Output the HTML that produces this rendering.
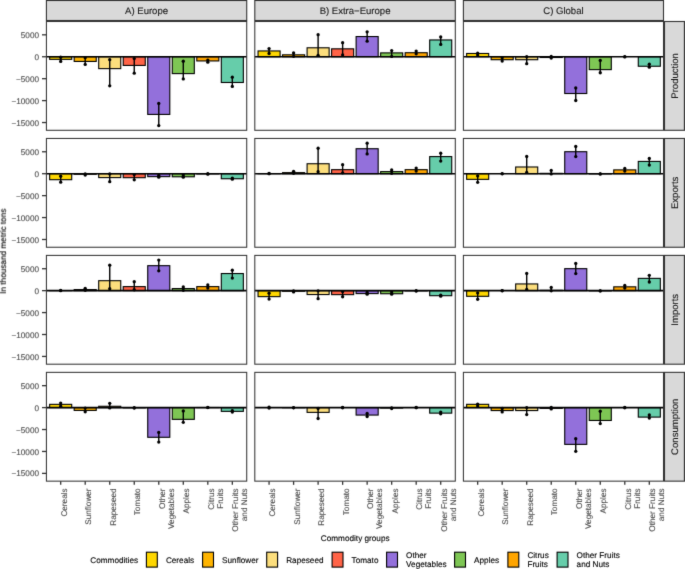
<!DOCTYPE html>
<html><head><meta charset="utf-8"><title>Chart</title>
<style>
html,body{margin:0;padding:0;background:#fff;}
body{width:685px;height:569px;overflow:hidden;}
svg{display:block;font-family:"Liberation Sans", sans-serif;will-change:transform;text-rendering:geometricPrecision;}
text{stroke-width:0.12;stroke:currentColor;paint-order:stroke;}
</style></head><body>
<svg width="685" height="569" viewBox="0 0 685 569">
<defs><filter id="sm" filterUnits="userSpaceOnUse" x="0" y="0" width="685" height="569" color-interpolation-filters="sRGB"><feConvolveMatrix order="3" kernelMatrix="1 8 1 8 64 8 1 8 1" divisor="100" edgeMode="duplicate"/></filter></defs>
<g filter="url(#sm)">
<rect x="0" y="0" width="685" height="569" fill="#fff"/>
<rect x="46.42" y="0.5" width="200.3" height="20" fill="#D9D9D9" stroke="#333333" stroke-width="1.1"/>
<text x="146.57" y="14.1" font-size="9.55" fill="#1A1A1A" color="#1A1A1A" text-anchor="middle">A) Europe</text>
<rect x="254.8" y="0.5" width="200.5" height="20" fill="#D9D9D9" stroke="#333333" stroke-width="1.1"/>
<text x="355.05" y="14.1" font-size="9.55" fill="#1A1A1A" color="#1A1A1A" text-anchor="middle">B) Extra−Europe</text>
<rect x="463.4" y="0.5" width="200.1" height="20" fill="#D9D9D9" stroke="#333333" stroke-width="1.1"/>
<text x="563.45" y="14.1" font-size="9.55" fill="#1A1A1A" color="#1A1A1A" text-anchor="middle">C) Global</text>
<rect x="664.5" y="21.5" width="19.9" height="108.8" fill="#D9D9D9" stroke="#333333" stroke-width="1.1"/>
<text transform="translate(678,75.9) rotate(-90)" x="0" y="0" font-size="9.55" fill="#1A1A1A" color="#1A1A1A" text-anchor="middle">Production</text>
<rect x="664.5" y="138.45" width="19.9" height="108.8" fill="#D9D9D9" stroke="#333333" stroke-width="1.1"/>
<text transform="translate(678,192.85) rotate(-90)" x="0" y="0" font-size="9.55" fill="#1A1A1A" color="#1A1A1A" text-anchor="middle">Exports</text>
<rect x="664.5" y="255.4" width="19.9" height="108.8" fill="#D9D9D9" stroke="#333333" stroke-width="1.1"/>
<text transform="translate(678,309.8) rotate(-90)" x="0" y="0" font-size="9.55" fill="#1A1A1A" color="#1A1A1A" text-anchor="middle">Imports</text>
<rect x="664.5" y="372.35" width="19.9" height="108.8" fill="#D9D9D9" stroke="#333333" stroke-width="1.1"/>
<text transform="translate(678,426.75) rotate(-90)" x="0" y="0" font-size="9.55" fill="#1A1A1A" color="#1A1A1A" text-anchor="middle">Consumption</text>
<rect x="46.42" y="21.5" width="200.3" height="108.8" fill="#FFFFFF"/>
<rect x="49.66" y="56.75" width="22.05" height="2.59" fill="#FFD700" stroke="#000" stroke-width="1.1"/>
<rect x="74.18" y="56.75" width="22.05" height="4.69" fill="#FFB400" stroke="#000" stroke-width="1.1"/>
<rect x="98.7" y="56.75" width="22.05" height="11.87" fill="#FCDE7D" stroke="#000" stroke-width="1.1"/>
<rect x="123.22" y="56.75" width="22.05" height="8.68" fill="#FF6347" stroke="#000" stroke-width="1.1"/>
<rect x="147.74" y="56.75" width="22.05" height="57.67" fill="#9370DB" stroke="#000" stroke-width="1.1"/>
<rect x="172.26" y="56.75" width="22.05" height="16.86" fill="#7EC654" stroke="#000" stroke-width="1.1"/>
<rect x="196.78" y="56.75" width="22.05" height="4.19" fill="#FFA500" stroke="#000" stroke-width="1.1"/>
<rect x="221.3" y="56.75" width="22.05" height="25.74" fill="#66CDAA" stroke="#000" stroke-width="1.1"/>
<line x1="46.42" x2="246.72" y1="56.75" y2="56.75" stroke="#000" stroke-width="1.6"/>
<line x1="60.69" x2="60.69" y1="57.25" y2="61.43" stroke="#000" stroke-width="1.4"/>
<circle cx="60.69" cy="57.25" r="1.65" fill="#000"/>
<circle cx="60.69" cy="61.43" r="1.65" fill="#000"/>
<line x1="85.21" x2="85.21" y1="57.65" y2="64.43" stroke="#000" stroke-width="1.4"/>
<circle cx="85.21" cy="57.65" r="1.65" fill="#000"/>
<circle cx="85.21" cy="64.43" r="1.65" fill="#000"/>
<line x1="109.73" x2="109.73" y1="59.64" y2="85.79" stroke="#000" stroke-width="1.4"/>
<circle cx="109.73" cy="59.64" r="1.65" fill="#000"/>
<circle cx="109.73" cy="85.79" r="1.65" fill="#000"/>
<line x1="134.25" x2="134.25" y1="58.55" y2="73.17" stroke="#000" stroke-width="1.4"/>
<circle cx="134.25" cy="58.55" r="1.65" fill="#000"/>
<circle cx="134.25" cy="73.17" r="1.65" fill="#000"/>
<line x1="158.77" x2="158.77" y1="103.44" y2="125.59" stroke="#000" stroke-width="1.4"/>
<circle cx="158.77" cy="103.44" r="1.65" fill="#000"/>
<circle cx="158.77" cy="125.59" r="1.65" fill="#000"/>
<line x1="183.29" x2="183.29" y1="61.24" y2="78.9" stroke="#000" stroke-width="1.4"/>
<circle cx="183.29" cy="61.24" r="1.65" fill="#000"/>
<circle cx="183.29" cy="78.9" r="1.65" fill="#000"/>
<line x1="207.81" x2="207.81" y1="60.04" y2="62.14" stroke="#000" stroke-width="1.4"/>
<circle cx="207.81" cy="60.04" r="1.65" fill="#000"/>
<circle cx="207.81" cy="62.14" r="1.65" fill="#000"/>
<line x1="232.33" x2="232.33" y1="77.15" y2="86.38" stroke="#000" stroke-width="1.4"/>
<circle cx="232.33" cy="77.15" r="1.65" fill="#000"/>
<circle cx="232.33" cy="86.38" r="1.65" fill="#000"/>
<rect x="46.42" y="21.5" width="200.3" height="108.8" fill="none" stroke="#333333" stroke-width="1.05"/>
<rect x="254.8" y="21.5" width="200.5" height="108.8" fill="#FFFFFF"/>
<rect x="258.05" y="50.95" width="22.05" height="5.8" fill="#FFD700" stroke="#000" stroke-width="1.1"/>
<rect x="282.56" y="54.82" width="22.05" height="1.93" fill="#FFB400" stroke="#000" stroke-width="1.1"/>
<rect x="307.09" y="47.79" width="22.05" height="8.96" fill="#FCDE7D" stroke="#000" stroke-width="1.1"/>
<rect x="331.61" y="48.83" width="22.05" height="7.92" fill="#FF6347" stroke="#000" stroke-width="1.1"/>
<rect x="356.12" y="36.55" width="22.05" height="20.2" fill="#9370DB" stroke="#000" stroke-width="1.1"/>
<rect x="380.64" y="52.89" width="22.05" height="3.86" fill="#7EC654" stroke="#000" stroke-width="1.1"/>
<rect x="405.17" y="52.72" width="22.05" height="4.03" fill="#FFA500" stroke="#000" stroke-width="1.1"/>
<rect x="429.69" y="39.95" width="22.05" height="16.8" fill="#66CDAA" stroke="#000" stroke-width="1.1"/>
<line x1="254.8" x2="455.3" y1="56.75" y2="56.75" stroke="#000" stroke-width="1.6"/>
<line x1="269.07" x2="269.07" y1="48.58" y2="53.48" stroke="#000" stroke-width="1.4"/>
<circle cx="269.07" cy="48.58" r="1.65" fill="#000"/>
<circle cx="269.07" cy="53.48" r="1.65" fill="#000"/>
<line x1="293.59" x2="293.59" y1="53.02" y2="56.31" stroke="#000" stroke-width="1.4"/>
<circle cx="293.59" cy="53.02" r="1.65" fill="#000"/>
<circle cx="293.59" cy="56.31" r="1.65" fill="#000"/>
<line x1="318.11" x2="318.11" y1="34.69" y2="55.31" stroke="#000" stroke-width="1.4"/>
<circle cx="318.11" cy="34.69" r="1.65" fill="#000"/>
<circle cx="318.11" cy="55.31" r="1.65" fill="#000"/>
<line x1="342.63" x2="342.63" y1="42.64" y2="54.96" stroke="#000" stroke-width="1.4"/>
<circle cx="342.63" cy="42.64" r="1.65" fill="#000"/>
<circle cx="342.63" cy="54.96" r="1.65" fill="#000"/>
<line x1="367.15" x2="367.15" y1="31.79" y2="41.14" stroke="#000" stroke-width="1.4"/>
<circle cx="367.15" cy="31.79" r="1.65" fill="#000"/>
<circle cx="367.15" cy="41.14" r="1.65" fill="#000"/>
<line x1="391.67" x2="391.67" y1="50.53" y2="56.41" stroke="#000" stroke-width="1.4"/>
<circle cx="391.67" cy="50.53" r="1.65" fill="#000"/>
<circle cx="391.67" cy="56.41" r="1.65" fill="#000"/>
<line x1="416.19" x2="416.19" y1="51.12" y2="53.82" stroke="#000" stroke-width="1.4"/>
<circle cx="416.19" cy="51.12" r="1.65" fill="#000"/>
<circle cx="416.19" cy="53.82" r="1.65" fill="#000"/>
<line x1="440.71" x2="440.71" y1="36.94" y2="44.44" stroke="#000" stroke-width="1.4"/>
<circle cx="440.71" cy="36.94" r="1.65" fill="#000"/>
<circle cx="440.71" cy="44.44" r="1.65" fill="#000"/>
<rect x="254.8" y="21.5" width="200.5" height="108.8" fill="none" stroke="#333333" stroke-width="1.05"/>
<rect x="463.4" y="21.5" width="200.1" height="108.8" fill="#FFFFFF"/>
<rect x="466.64" y="53.48" width="22.05" height="3.27" fill="#FFD700" stroke="#000" stroke-width="1.1"/>
<rect x="491.16" y="56.75" width="22.05" height="2.96" fill="#FFB400" stroke="#000" stroke-width="1.1"/>
<rect x="515.68" y="56.75" width="22.05" height="2.96" fill="#FCDE7D" stroke="#000" stroke-width="1.1"/>
<rect x="540.21" y="56.75" width="22.05" height="0.75" fill="#FF6347" stroke="#000" stroke-width="1.1"/>
<rect x="564.73" y="56.75" width="22.05" height="36.77" fill="#9370DB" stroke="#000" stroke-width="1.1"/>
<rect x="589.25" y="56.75" width="22.05" height="12.87" fill="#7EC654" stroke="#000" stroke-width="1.1"/>
<rect x="613.76" y="56.75" width="22.05" height="0" fill="#FFA500" stroke="#000" stroke-width="1.1"/>
<rect x="638.28" y="56.75" width="22.05" height="9.5" fill="#66CDAA" stroke="#000" stroke-width="1.1"/>
<line x1="463.4" x2="663.5" y1="56.75" y2="56.75" stroke="#000" stroke-width="1.6"/>
<line x1="477.67" x2="477.67" y1="53.24" y2="55.04" stroke="#000" stroke-width="1.4"/>
<circle cx="477.67" cy="53.24" r="1.65" fill="#000"/>
<circle cx="477.67" cy="55.04" r="1.65" fill="#000"/>
<line x1="502.19" x2="502.19" y1="57.63" y2="61.06" stroke="#000" stroke-width="1.4"/>
<circle cx="502.19" cy="57.63" r="1.65" fill="#000"/>
<circle cx="502.19" cy="61.06" r="1.65" fill="#000"/>
<line x1="526.71" x2="526.71" y1="56.75" y2="63.7" stroke="#000" stroke-width="1.4"/>
<circle cx="526.71" cy="56.75" r="1.65" fill="#000"/>
<circle cx="526.71" cy="63.7" r="1.65" fill="#000"/>
<line x1="551.23" x2="551.23" y1="56.49" y2="58.07" stroke="#000" stroke-width="1.4"/>
<circle cx="551.23" cy="56.49" r="1.65" fill="#000"/>
<circle cx="551.23" cy="58.07" r="1.65" fill="#000"/>
<line x1="575.75" x2="575.75" y1="87.88" y2="100.5" stroke="#000" stroke-width="1.4"/>
<circle cx="575.75" cy="87.88" r="1.65" fill="#000"/>
<circle cx="575.75" cy="100.5" r="1.65" fill="#000"/>
<line x1="600.27" x2="600.27" y1="60.39" y2="72.74" stroke="#000" stroke-width="1.4"/>
<circle cx="600.27" cy="60.39" r="1.65" fill="#000"/>
<circle cx="600.27" cy="72.74" r="1.65" fill="#000"/>
<line x1="624.79" x2="624.79" y1="56.62" y2="56.88" stroke="#000" stroke-width="1.4"/>
<circle cx="624.79" cy="56.62" r="1.65" fill="#000"/>
<circle cx="624.79" cy="56.88" r="1.65" fill="#000"/>
<line x1="649.31" x2="649.31" y1="64.14" y2="67.13" stroke="#000" stroke-width="1.4"/>
<circle cx="649.31" cy="64.14" r="1.65" fill="#000"/>
<circle cx="649.31" cy="67.13" r="1.65" fill="#000"/>
<rect x="463.4" y="21.5" width="200.1" height="108.8" fill="none" stroke="#333333" stroke-width="1.05"/>
<rect x="46.42" y="138.45" width="200.3" height="108.8" fill="#FFFFFF"/>
<rect x="49.66" y="173.7" width="22.05" height="5.99" fill="#FFD700" stroke="#000" stroke-width="1.1"/>
<rect x="74.18" y="173.7" width="22.05" height="0.57" fill="#FFB400" stroke="#000" stroke-width="1.1"/>
<rect x="98.7" y="173.7" width="22.05" height="3.89" fill="#FCDE7D" stroke="#000" stroke-width="1.1"/>
<rect x="123.22" y="173.7" width="22.05" height="3.99" fill="#FF6347" stroke="#000" stroke-width="1.1"/>
<rect x="147.74" y="173.7" width="22.05" height="2.94" fill="#9370DB" stroke="#000" stroke-width="1.1"/>
<rect x="172.26" y="173.7" width="22.05" height="3.09" fill="#7EC654" stroke="#000" stroke-width="1.1"/>
<rect x="196.78" y="173.7" width="22.05" height="0.22" fill="#FFA500" stroke="#000" stroke-width="1.1"/>
<rect x="221.3" y="173.7" width="22.05" height="5.04" fill="#66CDAA" stroke="#000" stroke-width="1.1"/>
<line x1="46.42" x2="246.72" y1="173.7" y2="173.7" stroke="#000" stroke-width="1.6"/>
<line x1="60.69" x2="60.69" y1="176.26" y2="182.13" stroke="#000" stroke-width="1.4"/>
<circle cx="60.69" cy="176.26" r="1.65" fill="#000"/>
<circle cx="60.69" cy="182.13" r="1.65" fill="#000"/>
<line x1="85.21" x2="85.21" y1="173.96" y2="175.02" stroke="#000" stroke-width="1.4"/>
<circle cx="85.21" cy="173.96" r="1.65" fill="#000"/>
<circle cx="85.21" cy="175.02" r="1.65" fill="#000"/>
<line x1="109.73" x2="109.73" y1="173.9" y2="181.68" stroke="#000" stroke-width="1.4"/>
<circle cx="109.73" cy="173.9" r="1.65" fill="#000"/>
<circle cx="109.73" cy="181.68" r="1.65" fill="#000"/>
<line x1="134.25" x2="134.25" y1="174.6" y2="179.79" stroke="#000" stroke-width="1.4"/>
<circle cx="134.25" cy="174.6" r="1.65" fill="#000"/>
<circle cx="134.25" cy="179.79" r="1.65" fill="#000"/>
<line x1="158.77" x2="158.77" y1="175.45" y2="177.21" stroke="#000" stroke-width="1.4"/>
<circle cx="158.77" cy="175.45" r="1.65" fill="#000"/>
<circle cx="158.77" cy="177.21" r="1.65" fill="#000"/>
<line x1="183.29" x2="183.29" y1="175.02" y2="177.21" stroke="#000" stroke-width="1.4"/>
<circle cx="183.29" cy="175.02" r="1.65" fill="#000"/>
<circle cx="183.29" cy="177.21" r="1.65" fill="#000"/>
<line x1="207.81" x2="207.81" y1="173.7" y2="174.14" stroke="#000" stroke-width="1.4"/>
<circle cx="207.81" cy="173.7" r="1.65" fill="#000"/>
<circle cx="207.81" cy="174.14" r="1.65" fill="#000"/>
<line x1="232.33" x2="232.33" y1="178.09" y2="179.18" stroke="#000" stroke-width="1.4"/>
<circle cx="232.33" cy="178.09" r="1.65" fill="#000"/>
<circle cx="232.33" cy="179.18" r="1.65" fill="#000"/>
<rect x="46.42" y="138.45" width="200.3" height="108.8" fill="none" stroke="#333333" stroke-width="1.05"/>
<rect x="254.8" y="138.45" width="200.5" height="108.8" fill="#FFFFFF"/>
<rect x="258.05" y="173.61" width="22.05" height="0.09" fill="#FFD700" stroke="#000" stroke-width="1.1"/>
<rect x="282.56" y="172.65" width="22.05" height="1.05" fill="#FFB400" stroke="#000" stroke-width="1.1"/>
<rect x="307.09" y="163.74" width="22.05" height="9.96" fill="#FCDE7D" stroke="#000" stroke-width="1.1"/>
<rect x="331.61" y="169.66" width="22.05" height="4.04" fill="#FF6347" stroke="#000" stroke-width="1.1"/>
<rect x="356.12" y="148.72" width="22.05" height="24.98" fill="#9370DB" stroke="#000" stroke-width="1.1"/>
<rect x="380.64" y="171.62" width="22.05" height="2.08" fill="#7EC654" stroke="#000" stroke-width="1.1"/>
<rect x="405.17" y="169.67" width="22.05" height="4.03" fill="#FFA500" stroke="#000" stroke-width="1.1"/>
<rect x="429.69" y="156.59" width="22.05" height="17.11" fill="#66CDAA" stroke="#000" stroke-width="1.1"/>
<line x1="254.8" x2="455.3" y1="173.7" y2="173.7" stroke="#000" stroke-width="1.6"/>
<line x1="269.07" x2="269.07" y1="173.52" y2="173.7" stroke="#000" stroke-width="1.4"/>
<circle cx="269.07" cy="173.52" r="1.65" fill="#000"/>
<circle cx="269.07" cy="173.7" r="1.65" fill="#000"/>
<line x1="293.59" x2="293.59" y1="171.33" y2="173.35" stroke="#000" stroke-width="1.4"/>
<circle cx="293.59" cy="171.33" r="1.65" fill="#000"/>
<circle cx="293.59" cy="173.35" r="1.65" fill="#000"/>
<line x1="318.11" x2="318.11" y1="148.26" y2="171.77" stroke="#000" stroke-width="1.4"/>
<circle cx="318.11" cy="148.26" r="1.65" fill="#000"/>
<circle cx="318.11" cy="171.77" r="1.65" fill="#000"/>
<line x1="342.63" x2="342.63" y1="164.71" y2="172.78" stroke="#000" stroke-width="1.4"/>
<circle cx="342.63" cy="164.71" r="1.65" fill="#000"/>
<circle cx="342.63" cy="172.78" r="1.65" fill="#000"/>
<line x1="367.15" x2="367.15" y1="143.13" y2="153.91" stroke="#000" stroke-width="1.4"/>
<circle cx="367.15" cy="143.13" r="1.65" fill="#000"/>
<circle cx="367.15" cy="153.91" r="1.65" fill="#000"/>
<line x1="391.67" x2="391.67" y1="169.97" y2="173.36" stroke="#000" stroke-width="1.4"/>
<circle cx="391.67" cy="169.97" r="1.65" fill="#000"/>
<circle cx="391.67" cy="173.36" r="1.65" fill="#000"/>
<line x1="416.19" x2="416.19" y1="168.07" y2="171.07" stroke="#000" stroke-width="1.4"/>
<circle cx="416.19" cy="168.07" r="1.65" fill="#000"/>
<circle cx="416.19" cy="171.07" r="1.65" fill="#000"/>
<line x1="440.71" x2="440.71" y1="153.22" y2="161.11" stroke="#000" stroke-width="1.4"/>
<circle cx="440.71" cy="153.22" r="1.65" fill="#000"/>
<circle cx="440.71" cy="161.11" r="1.65" fill="#000"/>
<rect x="254.8" y="138.45" width="200.5" height="108.8" fill="none" stroke="#333333" stroke-width="1.05"/>
<rect x="463.4" y="138.45" width="200.1" height="108.8" fill="#FFFFFF"/>
<rect x="466.64" y="173.7" width="22.05" height="5.66" fill="#FFD700" stroke="#000" stroke-width="1.1"/>
<rect x="491.16" y="173.7" width="22.05" height="0" fill="#FFB400" stroke="#000" stroke-width="1.1"/>
<rect x="515.68" y="166.99" width="22.05" height="6.71" fill="#FCDE7D" stroke="#000" stroke-width="1.1"/>
<rect x="540.21" y="173.35" width="22.05" height="0.35" fill="#FF6347" stroke="#000" stroke-width="1.1"/>
<rect x="564.73" y="151.71" width="22.05" height="21.99" fill="#9370DB" stroke="#000" stroke-width="1.1"/>
<rect x="589.25" y="173.7" width="22.05" height="0.22" fill="#7EC654" stroke="#000" stroke-width="1.1"/>
<rect x="613.76" y="169.88" width="22.05" height="3.82" fill="#FFA500" stroke="#000" stroke-width="1.1"/>
<rect x="638.28" y="161.42" width="22.05" height="12.28" fill="#66CDAA" stroke="#000" stroke-width="1.1"/>
<line x1="463.4" x2="663.5" y1="173.7" y2="173.7" stroke="#000" stroke-width="1.6"/>
<line x1="477.67" x2="477.67" y1="175.94" y2="182.3" stroke="#000" stroke-width="1.4"/>
<circle cx="477.67" cy="175.94" r="1.65" fill="#000"/>
<circle cx="477.67" cy="182.3" r="1.65" fill="#000"/>
<line x1="502.19" x2="502.19" y1="173.61" y2="173.79" stroke="#000" stroke-width="1.4"/>
<circle cx="502.19" cy="173.61" r="1.65" fill="#000"/>
<circle cx="502.19" cy="173.79" r="1.65" fill="#000"/>
<line x1="526.71" x2="526.71" y1="156.51" y2="172.47" stroke="#000" stroke-width="1.4"/>
<circle cx="526.71" cy="156.51" r="1.65" fill="#000"/>
<circle cx="526.71" cy="172.47" r="1.65" fill="#000"/>
<line x1="551.23" x2="551.23" y1="170.45" y2="173.92" stroke="#000" stroke-width="1.4"/>
<circle cx="551.23" cy="170.45" r="1.65" fill="#000"/>
<circle cx="551.23" cy="173.92" r="1.65" fill="#000"/>
<line x1="575.75" x2="575.75" y1="146.51" y2="156.59" stroke="#000" stroke-width="1.4"/>
<circle cx="575.75" cy="146.51" r="1.65" fill="#000"/>
<circle cx="575.75" cy="156.59" r="1.65" fill="#000"/>
<line x1="600.27" x2="600.27" y1="173.88" y2="173.96" stroke="#000" stroke-width="1.4"/>
<circle cx="600.27" cy="173.88" r="1.65" fill="#000"/>
<circle cx="600.27" cy="173.96" r="1.65" fill="#000"/>
<line x1="624.79" x2="624.79" y1="168.48" y2="171.07" stroke="#000" stroke-width="1.4"/>
<circle cx="624.79" cy="168.48" r="1.65" fill="#000"/>
<circle cx="624.79" cy="171.07" r="1.65" fill="#000"/>
<line x1="649.31" x2="649.31" y1="158.39" y2="165.06" stroke="#000" stroke-width="1.4"/>
<circle cx="649.31" cy="158.39" r="1.65" fill="#000"/>
<circle cx="649.31" cy="165.06" r="1.65" fill="#000"/>
<rect x="463.4" y="138.45" width="200.1" height="108.8" fill="none" stroke="#333333" stroke-width="1.05"/>
<rect x="46.42" y="255.4" width="200.3" height="108.8" fill="#FFFFFF"/>
<rect x="49.66" y="290.56" width="22.05" height="0.09" fill="#FFD700" stroke="#000" stroke-width="1.1"/>
<rect x="74.18" y="289.6" width="22.05" height="1.05" fill="#FFB400" stroke="#000" stroke-width="1.1"/>
<rect x="98.7" y="280.69" width="22.05" height="9.96" fill="#FCDE7D" stroke="#000" stroke-width="1.1"/>
<rect x="123.22" y="286.61" width="22.05" height="4.04" fill="#FF6347" stroke="#000" stroke-width="1.1"/>
<rect x="147.74" y="265.67" width="22.05" height="24.98" fill="#9370DB" stroke="#000" stroke-width="1.1"/>
<rect x="172.26" y="288.57" width="22.05" height="2.08" fill="#7EC654" stroke="#000" stroke-width="1.1"/>
<rect x="196.78" y="286.62" width="22.05" height="4.03" fill="#FFA500" stroke="#000" stroke-width="1.1"/>
<rect x="221.3" y="273.54" width="22.05" height="17.11" fill="#66CDAA" stroke="#000" stroke-width="1.1"/>
<line x1="46.42" x2="246.72" y1="290.65" y2="290.65" stroke="#000" stroke-width="1.6"/>
<line x1="60.69" x2="60.69" y1="290.47" y2="290.65" stroke="#000" stroke-width="1.4"/>
<circle cx="60.69" cy="290.47" r="1.65" fill="#000"/>
<circle cx="60.69" cy="290.65" r="1.65" fill="#000"/>
<line x1="85.21" x2="85.21" y1="288.28" y2="290.3" stroke="#000" stroke-width="1.4"/>
<circle cx="85.21" cy="288.28" r="1.65" fill="#000"/>
<circle cx="85.21" cy="290.3" r="1.65" fill="#000"/>
<line x1="109.73" x2="109.73" y1="265.21" y2="288.72" stroke="#000" stroke-width="1.4"/>
<circle cx="109.73" cy="265.21" r="1.65" fill="#000"/>
<circle cx="109.73" cy="288.72" r="1.65" fill="#000"/>
<line x1="134.25" x2="134.25" y1="281.66" y2="289.73" stroke="#000" stroke-width="1.4"/>
<circle cx="134.25" cy="281.66" r="1.65" fill="#000"/>
<circle cx="134.25" cy="289.73" r="1.65" fill="#000"/>
<line x1="158.77" x2="158.77" y1="260.08" y2="270.86" stroke="#000" stroke-width="1.4"/>
<circle cx="158.77" cy="260.08" r="1.65" fill="#000"/>
<circle cx="158.77" cy="270.86" r="1.65" fill="#000"/>
<line x1="183.29" x2="183.29" y1="286.92" y2="290.31" stroke="#000" stroke-width="1.4"/>
<circle cx="183.29" cy="286.92" r="1.65" fill="#000"/>
<circle cx="183.29" cy="290.31" r="1.65" fill="#000"/>
<line x1="207.81" x2="207.81" y1="285.02" y2="288.02" stroke="#000" stroke-width="1.4"/>
<circle cx="207.81" cy="285.02" r="1.65" fill="#000"/>
<circle cx="207.81" cy="288.02" r="1.65" fill="#000"/>
<line x1="232.33" x2="232.33" y1="270.17" y2="278.06" stroke="#000" stroke-width="1.4"/>
<circle cx="232.33" cy="270.17" r="1.65" fill="#000"/>
<circle cx="232.33" cy="278.06" r="1.65" fill="#000"/>
<rect x="46.42" y="255.4" width="200.3" height="108.8" fill="none" stroke="#333333" stroke-width="1.05"/>
<rect x="254.8" y="255.4" width="200.5" height="108.8" fill="#FFFFFF"/>
<rect x="258.05" y="290.65" width="22.05" height="5.99" fill="#FFD700" stroke="#000" stroke-width="1.1"/>
<rect x="282.56" y="290.65" width="22.05" height="0.57" fill="#FFB400" stroke="#000" stroke-width="1.1"/>
<rect x="307.09" y="290.65" width="22.05" height="3.89" fill="#FCDE7D" stroke="#000" stroke-width="1.1"/>
<rect x="331.61" y="290.65" width="22.05" height="3.99" fill="#FF6347" stroke="#000" stroke-width="1.1"/>
<rect x="356.12" y="290.65" width="22.05" height="2.94" fill="#9370DB" stroke="#000" stroke-width="1.1"/>
<rect x="380.64" y="290.65" width="22.05" height="3.09" fill="#7EC654" stroke="#000" stroke-width="1.1"/>
<rect x="405.17" y="290.65" width="22.05" height="0.22" fill="#FFA500" stroke="#000" stroke-width="1.1"/>
<rect x="429.69" y="290.65" width="22.05" height="5.04" fill="#66CDAA" stroke="#000" stroke-width="1.1"/>
<line x1="254.8" x2="455.3" y1="290.65" y2="290.65" stroke="#000" stroke-width="1.6"/>
<line x1="269.07" x2="269.07" y1="293.21" y2="299.08" stroke="#000" stroke-width="1.4"/>
<circle cx="269.07" cy="293.21" r="1.65" fill="#000"/>
<circle cx="269.07" cy="299.08" r="1.65" fill="#000"/>
<line x1="293.59" x2="293.59" y1="290.91" y2="291.97" stroke="#000" stroke-width="1.4"/>
<circle cx="293.59" cy="290.91" r="1.65" fill="#000"/>
<circle cx="293.59" cy="291.97" r="1.65" fill="#000"/>
<line x1="318.11" x2="318.11" y1="290.85" y2="298.63" stroke="#000" stroke-width="1.4"/>
<circle cx="318.11" cy="290.85" r="1.65" fill="#000"/>
<circle cx="318.11" cy="298.63" r="1.65" fill="#000"/>
<line x1="342.63" x2="342.63" y1="291.55" y2="296.74" stroke="#000" stroke-width="1.4"/>
<circle cx="342.63" cy="291.55" r="1.65" fill="#000"/>
<circle cx="342.63" cy="296.74" r="1.65" fill="#000"/>
<line x1="367.15" x2="367.15" y1="292.4" y2="294.16" stroke="#000" stroke-width="1.4"/>
<circle cx="367.15" cy="292.4" r="1.65" fill="#000"/>
<circle cx="367.15" cy="294.16" r="1.65" fill="#000"/>
<line x1="391.67" x2="391.67" y1="291.97" y2="294.16" stroke="#000" stroke-width="1.4"/>
<circle cx="391.67" cy="291.97" r="1.65" fill="#000"/>
<circle cx="391.67" cy="294.16" r="1.65" fill="#000"/>
<line x1="416.19" x2="416.19" y1="290.65" y2="291.09" stroke="#000" stroke-width="1.4"/>
<circle cx="416.19" cy="290.65" r="1.65" fill="#000"/>
<circle cx="416.19" cy="291.09" r="1.65" fill="#000"/>
<line x1="440.71" x2="440.71" y1="295.04" y2="296.13" stroke="#000" stroke-width="1.4"/>
<circle cx="440.71" cy="295.04" r="1.65" fill="#000"/>
<circle cx="440.71" cy="296.13" r="1.65" fill="#000"/>
<rect x="254.8" y="255.4" width="200.5" height="108.8" fill="none" stroke="#333333" stroke-width="1.05"/>
<rect x="463.4" y="255.4" width="200.1" height="108.8" fill="#FFFFFF"/>
<rect x="466.64" y="290.65" width="22.05" height="5.66" fill="#FFD700" stroke="#000" stroke-width="1.1"/>
<rect x="491.16" y="290.65" width="22.05" height="0" fill="#FFB400" stroke="#000" stroke-width="1.1"/>
<rect x="515.68" y="283.94" width="22.05" height="6.71" fill="#FCDE7D" stroke="#000" stroke-width="1.1"/>
<rect x="540.21" y="290.3" width="22.05" height="0.35" fill="#FF6347" stroke="#000" stroke-width="1.1"/>
<rect x="564.73" y="268.66" width="22.05" height="21.99" fill="#9370DB" stroke="#000" stroke-width="1.1"/>
<rect x="589.25" y="290.65" width="22.05" height="0.22" fill="#7EC654" stroke="#000" stroke-width="1.1"/>
<rect x="613.76" y="286.83" width="22.05" height="3.82" fill="#FFA500" stroke="#000" stroke-width="1.1"/>
<rect x="638.28" y="278.37" width="22.05" height="12.28" fill="#66CDAA" stroke="#000" stroke-width="1.1"/>
<line x1="463.4" x2="663.5" y1="290.65" y2="290.65" stroke="#000" stroke-width="1.6"/>
<line x1="477.67" x2="477.67" y1="292.89" y2="299.25" stroke="#000" stroke-width="1.4"/>
<circle cx="477.67" cy="292.89" r="1.65" fill="#000"/>
<circle cx="477.67" cy="299.25" r="1.65" fill="#000"/>
<line x1="502.19" x2="502.19" y1="290.56" y2="290.74" stroke="#000" stroke-width="1.4"/>
<circle cx="502.19" cy="290.56" r="1.65" fill="#000"/>
<circle cx="502.19" cy="290.74" r="1.65" fill="#000"/>
<line x1="526.71" x2="526.71" y1="273.46" y2="289.42" stroke="#000" stroke-width="1.4"/>
<circle cx="526.71" cy="273.46" r="1.65" fill="#000"/>
<circle cx="526.71" cy="289.42" r="1.65" fill="#000"/>
<line x1="551.23" x2="551.23" y1="287.4" y2="290.87" stroke="#000" stroke-width="1.4"/>
<circle cx="551.23" cy="287.4" r="1.65" fill="#000"/>
<circle cx="551.23" cy="290.87" r="1.65" fill="#000"/>
<line x1="575.75" x2="575.75" y1="263.46" y2="273.54" stroke="#000" stroke-width="1.4"/>
<circle cx="575.75" cy="263.46" r="1.65" fill="#000"/>
<circle cx="575.75" cy="273.54" r="1.65" fill="#000"/>
<line x1="600.27" x2="600.27" y1="290.83" y2="290.91" stroke="#000" stroke-width="1.4"/>
<circle cx="600.27" cy="290.83" r="1.65" fill="#000"/>
<circle cx="600.27" cy="290.91" r="1.65" fill="#000"/>
<line x1="624.79" x2="624.79" y1="285.43" y2="288.02" stroke="#000" stroke-width="1.4"/>
<circle cx="624.79" cy="285.43" r="1.65" fill="#000"/>
<circle cx="624.79" cy="288.02" r="1.65" fill="#000"/>
<line x1="649.31" x2="649.31" y1="275.34" y2="282.01" stroke="#000" stroke-width="1.4"/>
<circle cx="649.31" cy="275.34" r="1.65" fill="#000"/>
<circle cx="649.31" cy="282.01" r="1.65" fill="#000"/>
<rect x="463.4" y="255.4" width="200.1" height="108.8" fill="none" stroke="#333333" stroke-width="1.05"/>
<rect x="46.42" y="372.35" width="200.3" height="108.8" fill="#FFFFFF"/>
<rect x="49.66" y="404.35" width="22.05" height="3.25" fill="#FFD700" stroke="#000" stroke-width="1.1"/>
<rect x="74.18" y="407.6" width="22.05" height="2.81" fill="#FFB400" stroke="#000" stroke-width="1.1"/>
<rect x="98.7" y="406.28" width="22.05" height="1.32" fill="#FCDE7D" stroke="#000" stroke-width="1.1"/>
<rect x="123.22" y="407.6" width="22.05" height="0.26" fill="#FF6347" stroke="#000" stroke-width="1.1"/>
<rect x="147.74" y="407.6" width="22.05" height="29.69" fill="#9370DB" stroke="#000" stroke-width="1.1"/>
<rect x="172.26" y="407.6" width="22.05" height="11.75" fill="#7EC654" stroke="#000" stroke-width="1.1"/>
<rect x="196.78" y="407.51" width="22.05" height="0.09" fill="#FFA500" stroke="#000" stroke-width="1.1"/>
<rect x="221.3" y="407.6" width="22.05" height="3.77" fill="#66CDAA" stroke="#000" stroke-width="1.1"/>
<line x1="46.42" x2="246.72" y1="407.6" y2="407.6" stroke="#000" stroke-width="1.6"/>
<line x1="60.69" x2="60.69" y1="403.06" y2="406.24" stroke="#000" stroke-width="1.4"/>
<circle cx="60.69" cy="403.06" r="1.65" fill="#000"/>
<circle cx="60.69" cy="406.24" r="1.65" fill="#000"/>
<line x1="85.21" x2="85.21" y1="408.04" y2="411.85" stroke="#000" stroke-width="1.4"/>
<circle cx="85.21" cy="408.04" r="1.65" fill="#000"/>
<circle cx="85.21" cy="411.85" r="1.65" fill="#000"/>
<line x1="109.73" x2="109.73" y1="403.3" y2="407.91" stroke="#000" stroke-width="1.4"/>
<circle cx="109.73" cy="403.3" r="1.65" fill="#000"/>
<circle cx="109.73" cy="407.91" r="1.65" fill="#000"/>
<line x1="134.25" x2="134.25" y1="407.69" y2="408.04" stroke="#000" stroke-width="1.4"/>
<circle cx="134.25" cy="407.69" r="1.65" fill="#000"/>
<circle cx="134.25" cy="408.04" r="1.65" fill="#000"/>
<line x1="158.77" x2="158.77" y1="432.38" y2="442.07" stroke="#000" stroke-width="1.4"/>
<circle cx="158.77" cy="432.38" r="1.65" fill="#000"/>
<circle cx="158.77" cy="442.07" r="1.65" fill="#000"/>
<line x1="183.29" x2="183.29" y1="410.89" y2="422.29" stroke="#000" stroke-width="1.4"/>
<circle cx="183.29" cy="410.89" r="1.65" fill="#000"/>
<circle cx="183.29" cy="422.29" r="1.65" fill="#000"/>
<line x1="207.81" x2="207.81" y1="407.42" y2="407.6" stroke="#000" stroke-width="1.4"/>
<circle cx="207.81" cy="407.42" r="1.65" fill="#000"/>
<circle cx="207.81" cy="407.6" r="1.65" fill="#000"/>
<line x1="232.33" x2="232.33" y1="410.67" y2="411.99" stroke="#000" stroke-width="1.4"/>
<circle cx="232.33" cy="410.67" r="1.65" fill="#000"/>
<circle cx="232.33" cy="411.99" r="1.65" fill="#000"/>
<rect x="46.42" y="372.35" width="200.3" height="108.8" fill="none" stroke="#333333" stroke-width="1.05"/>
<rect x="254.8" y="372.35" width="200.5" height="108.8" fill="#FFFFFF"/>
<rect x="258.05" y="407.6" width="22.05" height="0" fill="#FFD700" stroke="#000" stroke-width="1.1"/>
<rect x="282.56" y="407.6" width="22.05" height="0.13" fill="#FFB400" stroke="#000" stroke-width="1.1"/>
<rect x="307.09" y="407.6" width="22.05" height="4.78" fill="#FCDE7D" stroke="#000" stroke-width="1.1"/>
<rect x="331.61" y="407.6" width="22.05" height="0" fill="#FF6347" stroke="#000" stroke-width="1.1"/>
<rect x="356.12" y="407.6" width="22.05" height="7.46" fill="#9370DB" stroke="#000" stroke-width="1.1"/>
<rect x="380.64" y="407.6" width="22.05" height="0.44" fill="#7EC654" stroke="#000" stroke-width="1.1"/>
<rect x="405.17" y="407.6" width="22.05" height="0" fill="#FFA500" stroke="#000" stroke-width="1.1"/>
<rect x="429.69" y="407.6" width="22.05" height="5.53" fill="#66CDAA" stroke="#000" stroke-width="1.1"/>
<line x1="254.8" x2="455.3" y1="407.6" y2="407.6" stroke="#000" stroke-width="1.6"/>
<line x1="269.07" x2="269.07" y1="407.16" y2="408.04" stroke="#000" stroke-width="1.4"/>
<circle cx="269.07" cy="407.16" r="1.65" fill="#000"/>
<circle cx="269.07" cy="408.04" r="1.65" fill="#000"/>
<line x1="293.59" x2="293.59" y1="407.6" y2="407.86" stroke="#000" stroke-width="1.4"/>
<circle cx="293.59" cy="407.6" r="1.65" fill="#000"/>
<circle cx="293.59" cy="407.86" r="1.65" fill="#000"/>
<line x1="318.11" x2="318.11" y1="408.48" y2="418.48" stroke="#000" stroke-width="1.4"/>
<circle cx="318.11" cy="408.48" r="1.65" fill="#000"/>
<circle cx="318.11" cy="418.48" r="1.65" fill="#000"/>
<line x1="342.63" x2="342.63" y1="407.47" y2="407.73" stroke="#000" stroke-width="1.4"/>
<circle cx="342.63" cy="407.47" r="1.65" fill="#000"/>
<circle cx="342.63" cy="407.73" r="1.65" fill="#000"/>
<line x1="367.15" x2="367.15" y1="413.52" y2="416.5" stroke="#000" stroke-width="1.4"/>
<circle cx="367.15" cy="413.52" r="1.65" fill="#000"/>
<circle cx="367.15" cy="416.5" r="1.65" fill="#000"/>
<line x1="391.67" x2="391.67" y1="407.82" y2="408.48" stroke="#000" stroke-width="1.4"/>
<circle cx="391.67" cy="407.82" r="1.65" fill="#000"/>
<circle cx="391.67" cy="408.48" r="1.65" fill="#000"/>
<line x1="416.19" x2="416.19" y1="407.51" y2="407.69" stroke="#000" stroke-width="1.4"/>
<circle cx="416.19" cy="407.51" r="1.65" fill="#000"/>
<circle cx="416.19" cy="407.69" r="1.65" fill="#000"/>
<line x1="440.71" x2="440.71" y1="412.03" y2="413.83" stroke="#000" stroke-width="1.4"/>
<circle cx="440.71" cy="412.03" r="1.65" fill="#000"/>
<circle cx="440.71" cy="413.83" r="1.65" fill="#000"/>
<rect x="254.8" y="372.35" width="200.5" height="108.8" fill="none" stroke="#333333" stroke-width="1.05"/>
<rect x="463.4" y="372.35" width="200.1" height="108.8" fill="#FFFFFF"/>
<rect x="466.64" y="404.33" width="22.05" height="3.27" fill="#FFD700" stroke="#000" stroke-width="1.1"/>
<rect x="491.16" y="407.6" width="22.05" height="2.96" fill="#FFB400" stroke="#000" stroke-width="1.1"/>
<rect x="515.68" y="407.6" width="22.05" height="2.96" fill="#FCDE7D" stroke="#000" stroke-width="1.1"/>
<rect x="540.21" y="407.6" width="22.05" height="0.75" fill="#FF6347" stroke="#000" stroke-width="1.1"/>
<rect x="564.73" y="407.6" width="22.05" height="36.77" fill="#9370DB" stroke="#000" stroke-width="1.1"/>
<rect x="589.25" y="407.6" width="22.05" height="12.87" fill="#7EC654" stroke="#000" stroke-width="1.1"/>
<rect x="613.76" y="407.6" width="22.05" height="0" fill="#FFA500" stroke="#000" stroke-width="1.1"/>
<rect x="638.28" y="407.6" width="22.05" height="9.5" fill="#66CDAA" stroke="#000" stroke-width="1.1"/>
<line x1="463.4" x2="663.5" y1="407.6" y2="407.6" stroke="#000" stroke-width="1.6"/>
<line x1="477.67" x2="477.67" y1="404.09" y2="405.89" stroke="#000" stroke-width="1.4"/>
<circle cx="477.67" cy="404.09" r="1.65" fill="#000"/>
<circle cx="477.67" cy="405.89" r="1.65" fill="#000"/>
<line x1="502.19" x2="502.19" y1="408.48" y2="411.91" stroke="#000" stroke-width="1.4"/>
<circle cx="502.19" cy="408.48" r="1.65" fill="#000"/>
<circle cx="502.19" cy="411.91" r="1.65" fill="#000"/>
<line x1="526.71" x2="526.71" y1="407.6" y2="414.55" stroke="#000" stroke-width="1.4"/>
<circle cx="526.71" cy="407.6" r="1.65" fill="#000"/>
<circle cx="526.71" cy="414.55" r="1.65" fill="#000"/>
<line x1="551.23" x2="551.23" y1="407.34" y2="408.92" stroke="#000" stroke-width="1.4"/>
<circle cx="551.23" cy="407.34" r="1.65" fill="#000"/>
<circle cx="551.23" cy="408.92" r="1.65" fill="#000"/>
<line x1="575.75" x2="575.75" y1="438.73" y2="451.35" stroke="#000" stroke-width="1.4"/>
<circle cx="575.75" cy="438.73" r="1.65" fill="#000"/>
<circle cx="575.75" cy="451.35" r="1.65" fill="#000"/>
<line x1="600.27" x2="600.27" y1="411.24" y2="423.59" stroke="#000" stroke-width="1.4"/>
<circle cx="600.27" cy="411.24" r="1.65" fill="#000"/>
<circle cx="600.27" cy="423.59" r="1.65" fill="#000"/>
<line x1="624.79" x2="624.79" y1="407.47" y2="407.73" stroke="#000" stroke-width="1.4"/>
<circle cx="624.79" cy="407.47" r="1.65" fill="#000"/>
<circle cx="624.79" cy="407.73" r="1.65" fill="#000"/>
<line x1="649.31" x2="649.31" y1="414.99" y2="417.98" stroke="#000" stroke-width="1.4"/>
<circle cx="649.31" cy="414.99" r="1.65" fill="#000"/>
<circle cx="649.31" cy="417.98" r="1.65" fill="#000"/>
<rect x="463.4" y="372.35" width="200.1" height="108.8" fill="none" stroke="#333333" stroke-width="1.05"/>
<line x1="42.0" x2="46.42" y1="34.82" y2="34.82" stroke="#333333" stroke-width="1.3"/>
<text x="39.0" y="37.92" font-size="8.2" fill="#4D4D4D" color="#4D4D4D" text-anchor="end">5000</text>
<line x1="42.0" x2="46.42" y1="56.75" y2="56.75" stroke="#333333" stroke-width="1.3"/>
<text x="39.0" y="59.85" font-size="8.2" fill="#4D4D4D" color="#4D4D4D" text-anchor="end">0</text>
<line x1="42.0" x2="46.42" y1="78.68" y2="78.68" stroke="#333333" stroke-width="1.3"/>
<text x="39.0" y="81.78" font-size="8.2" fill="#4D4D4D" color="#4D4D4D" text-anchor="end">−5000</text>
<line x1="42.0" x2="46.42" y1="100.61" y2="100.61" stroke="#333333" stroke-width="1.3"/>
<text x="39.0" y="103.71" font-size="8.2" fill="#4D4D4D" color="#4D4D4D" text-anchor="end">−10000</text>
<line x1="42.0" x2="46.42" y1="122.54" y2="122.54" stroke="#333333" stroke-width="1.3"/>
<text x="39.0" y="125.64" font-size="8.2" fill="#4D4D4D" color="#4D4D4D" text-anchor="end">−15000</text>
<line x1="42.0" x2="46.42" y1="151.77" y2="151.77" stroke="#333333" stroke-width="1.3"/>
<text x="39.0" y="154.87" font-size="8.2" fill="#4D4D4D" color="#4D4D4D" text-anchor="end">5000</text>
<line x1="42.0" x2="46.42" y1="173.7" y2="173.7" stroke="#333333" stroke-width="1.3"/>
<text x="39.0" y="176.8" font-size="8.2" fill="#4D4D4D" color="#4D4D4D" text-anchor="end">0</text>
<line x1="42.0" x2="46.42" y1="195.63" y2="195.63" stroke="#333333" stroke-width="1.3"/>
<text x="39.0" y="198.73" font-size="8.2" fill="#4D4D4D" color="#4D4D4D" text-anchor="end">−5000</text>
<line x1="42.0" x2="46.42" y1="217.56" y2="217.56" stroke="#333333" stroke-width="1.3"/>
<text x="39.0" y="220.66" font-size="8.2" fill="#4D4D4D" color="#4D4D4D" text-anchor="end">−10000</text>
<line x1="42.0" x2="46.42" y1="239.49" y2="239.49" stroke="#333333" stroke-width="1.3"/>
<text x="39.0" y="242.59" font-size="8.2" fill="#4D4D4D" color="#4D4D4D" text-anchor="end">−15000</text>
<line x1="42.0" x2="46.42" y1="268.72" y2="268.72" stroke="#333333" stroke-width="1.3"/>
<text x="39.0" y="271.82" font-size="8.2" fill="#4D4D4D" color="#4D4D4D" text-anchor="end">5000</text>
<line x1="42.0" x2="46.42" y1="290.65" y2="290.65" stroke="#333333" stroke-width="1.3"/>
<text x="39.0" y="293.75" font-size="8.2" fill="#4D4D4D" color="#4D4D4D" text-anchor="end">0</text>
<line x1="42.0" x2="46.42" y1="312.58" y2="312.58" stroke="#333333" stroke-width="1.3"/>
<text x="39.0" y="315.68" font-size="8.2" fill="#4D4D4D" color="#4D4D4D" text-anchor="end">−5000</text>
<line x1="42.0" x2="46.42" y1="334.51" y2="334.51" stroke="#333333" stroke-width="1.3"/>
<text x="39.0" y="337.61" font-size="8.2" fill="#4D4D4D" color="#4D4D4D" text-anchor="end">−10000</text>
<line x1="42.0" x2="46.42" y1="356.44" y2="356.44" stroke="#333333" stroke-width="1.3"/>
<text x="39.0" y="359.54" font-size="8.2" fill="#4D4D4D" color="#4D4D4D" text-anchor="end">−15000</text>
<line x1="42.0" x2="46.42" y1="385.67" y2="385.67" stroke="#333333" stroke-width="1.3"/>
<text x="39.0" y="388.77" font-size="8.2" fill="#4D4D4D" color="#4D4D4D" text-anchor="end">5000</text>
<line x1="42.0" x2="46.42" y1="407.6" y2="407.6" stroke="#333333" stroke-width="1.3"/>
<text x="39.0" y="410.7" font-size="8.2" fill="#4D4D4D" color="#4D4D4D" text-anchor="end">0</text>
<line x1="42.0" x2="46.42" y1="429.53" y2="429.53" stroke="#333333" stroke-width="1.3"/>
<text x="39.0" y="432.63" font-size="8.2" fill="#4D4D4D" color="#4D4D4D" text-anchor="end">−5000</text>
<line x1="42.0" x2="46.42" y1="451.46" y2="451.46" stroke="#333333" stroke-width="1.3"/>
<text x="39.0" y="454.56" font-size="8.2" fill="#4D4D4D" color="#4D4D4D" text-anchor="end">−10000</text>
<line x1="42.0" x2="46.42" y1="473.39" y2="473.39" stroke="#333333" stroke-width="1.3"/>
<text x="39.0" y="476.49" font-size="8.2" fill="#4D4D4D" color="#4D4D4D" text-anchor="end">−15000</text>
<line x1="60.69" x2="60.69" y1="481.15" y2="484.85" stroke="#333333" stroke-width="1.3"/>
<text transform="translate(66.69,488.4) rotate(-90)" x="0" y="0" font-size="8.2" fill="#4D4D4D" color="#4D4D4D" text-anchor="end">Cereals</text>
<line x1="85.21" x2="85.21" y1="481.15" y2="484.85" stroke="#333333" stroke-width="1.3"/>
<text transform="translate(91.21,488.4) rotate(-90)" x="0" y="0" font-size="8.2" fill="#4D4D4D" color="#4D4D4D" text-anchor="end">Sunflower</text>
<line x1="109.73" x2="109.73" y1="481.15" y2="484.85" stroke="#333333" stroke-width="1.3"/>
<text transform="translate(115.73,488.4) rotate(-90)" x="0" y="0" font-size="8.2" fill="#4D4D4D" color="#4D4D4D" text-anchor="end">Rapeseed</text>
<line x1="134.25" x2="134.25" y1="481.15" y2="484.85" stroke="#333333" stroke-width="1.3"/>
<text transform="translate(140.25,488.4) rotate(-90)" x="0" y="0" font-size="8.2" fill="#4D4D4D" color="#4D4D4D" text-anchor="end">Tomato</text>
<line x1="158.77" x2="158.77" y1="481.15" y2="484.85" stroke="#333333" stroke-width="1.3"/>
<text transform="translate(164.77,488.4) rotate(-90)" x="0" y="0" font-size="8.2" fill="#4D4D4D" color="#4D4D4D" text-anchor="end">Other</text>
<text transform="translate(173.67,488.4) rotate(-90)" x="0" y="0" font-size="8.2" fill="#4D4D4D" color="#4D4D4D" text-anchor="end">Vegetables</text>
<line x1="183.29" x2="183.29" y1="481.15" y2="484.85" stroke="#333333" stroke-width="1.3"/>
<text transform="translate(189.29,488.4) rotate(-90)" x="0" y="0" font-size="8.2" fill="#4D4D4D" color="#4D4D4D" text-anchor="end">Apples</text>
<line x1="207.81" x2="207.81" y1="481.15" y2="484.85" stroke="#333333" stroke-width="1.3"/>
<text transform="translate(213.81,488.4) rotate(-90)" x="0" y="0" font-size="8.2" fill="#4D4D4D" color="#4D4D4D" text-anchor="end">Citrus</text>
<text transform="translate(222.71,488.4) rotate(-90)" x="0" y="0" font-size="8.2" fill="#4D4D4D" color="#4D4D4D" text-anchor="end">Fruits</text>
<line x1="232.33" x2="232.33" y1="481.15" y2="484.85" stroke="#333333" stroke-width="1.3"/>
<text transform="translate(238.33,488.4) rotate(-90)" x="0" y="0" font-size="8.2" fill="#4D4D4D" color="#4D4D4D" text-anchor="end">Other Fruits</text>
<text transform="translate(247.23,488.4) rotate(-90)" x="0" y="0" font-size="8.2" fill="#4D4D4D" color="#4D4D4D" text-anchor="end">and Nuts</text>
<line x1="269.07" x2="269.07" y1="481.15" y2="484.85" stroke="#333333" stroke-width="1.3"/>
<text transform="translate(275.07,488.4) rotate(-90)" x="0" y="0" font-size="8.2" fill="#4D4D4D" color="#4D4D4D" text-anchor="end">Cereals</text>
<line x1="293.59" x2="293.59" y1="481.15" y2="484.85" stroke="#333333" stroke-width="1.3"/>
<text transform="translate(299.59,488.4) rotate(-90)" x="0" y="0" font-size="8.2" fill="#4D4D4D" color="#4D4D4D" text-anchor="end">Sunflower</text>
<line x1="318.11" x2="318.11" y1="481.15" y2="484.85" stroke="#333333" stroke-width="1.3"/>
<text transform="translate(324.11,488.4) rotate(-90)" x="0" y="0" font-size="8.2" fill="#4D4D4D" color="#4D4D4D" text-anchor="end">Rapeseed</text>
<line x1="342.63" x2="342.63" y1="481.15" y2="484.85" stroke="#333333" stroke-width="1.3"/>
<text transform="translate(348.63,488.4) rotate(-90)" x="0" y="0" font-size="8.2" fill="#4D4D4D" color="#4D4D4D" text-anchor="end">Tomato</text>
<line x1="367.15" x2="367.15" y1="481.15" y2="484.85" stroke="#333333" stroke-width="1.3"/>
<text transform="translate(373.15,488.4) rotate(-90)" x="0" y="0" font-size="8.2" fill="#4D4D4D" color="#4D4D4D" text-anchor="end">Other</text>
<text transform="translate(382.05,488.4) rotate(-90)" x="0" y="0" font-size="8.2" fill="#4D4D4D" color="#4D4D4D" text-anchor="end">Vegetables</text>
<line x1="391.67" x2="391.67" y1="481.15" y2="484.85" stroke="#333333" stroke-width="1.3"/>
<text transform="translate(397.67,488.4) rotate(-90)" x="0" y="0" font-size="8.2" fill="#4D4D4D" color="#4D4D4D" text-anchor="end">Apples</text>
<line x1="416.19" x2="416.19" y1="481.15" y2="484.85" stroke="#333333" stroke-width="1.3"/>
<text transform="translate(422.19,488.4) rotate(-90)" x="0" y="0" font-size="8.2" fill="#4D4D4D" color="#4D4D4D" text-anchor="end">Citrus</text>
<text transform="translate(431.09,488.4) rotate(-90)" x="0" y="0" font-size="8.2" fill="#4D4D4D" color="#4D4D4D" text-anchor="end">Fruits</text>
<line x1="440.71" x2="440.71" y1="481.15" y2="484.85" stroke="#333333" stroke-width="1.3"/>
<text transform="translate(446.71,488.4) rotate(-90)" x="0" y="0" font-size="8.2" fill="#4D4D4D" color="#4D4D4D" text-anchor="end">Other Fruits</text>
<text transform="translate(455.61,488.4) rotate(-90)" x="0" y="0" font-size="8.2" fill="#4D4D4D" color="#4D4D4D" text-anchor="end">and Nuts</text>
<line x1="477.67" x2="477.67" y1="481.15" y2="484.85" stroke="#333333" stroke-width="1.3"/>
<text transform="translate(483.67,488.4) rotate(-90)" x="0" y="0" font-size="8.2" fill="#4D4D4D" color="#4D4D4D" text-anchor="end">Cereals</text>
<line x1="502.19" x2="502.19" y1="481.15" y2="484.85" stroke="#333333" stroke-width="1.3"/>
<text transform="translate(508.19,488.4) rotate(-90)" x="0" y="0" font-size="8.2" fill="#4D4D4D" color="#4D4D4D" text-anchor="end">Sunflower</text>
<line x1="526.71" x2="526.71" y1="481.15" y2="484.85" stroke="#333333" stroke-width="1.3"/>
<text transform="translate(532.71,488.4) rotate(-90)" x="0" y="0" font-size="8.2" fill="#4D4D4D" color="#4D4D4D" text-anchor="end">Rapeseed</text>
<line x1="551.23" x2="551.23" y1="481.15" y2="484.85" stroke="#333333" stroke-width="1.3"/>
<text transform="translate(557.23,488.4) rotate(-90)" x="0" y="0" font-size="8.2" fill="#4D4D4D" color="#4D4D4D" text-anchor="end">Tomato</text>
<line x1="575.75" x2="575.75" y1="481.15" y2="484.85" stroke="#333333" stroke-width="1.3"/>
<text transform="translate(581.75,488.4) rotate(-90)" x="0" y="0" font-size="8.2" fill="#4D4D4D" color="#4D4D4D" text-anchor="end">Other</text>
<text transform="translate(590.65,488.4) rotate(-90)" x="0" y="0" font-size="8.2" fill="#4D4D4D" color="#4D4D4D" text-anchor="end">Vegetables</text>
<line x1="600.27" x2="600.27" y1="481.15" y2="484.85" stroke="#333333" stroke-width="1.3"/>
<text transform="translate(606.27,488.4) rotate(-90)" x="0" y="0" font-size="8.2" fill="#4D4D4D" color="#4D4D4D" text-anchor="end">Apples</text>
<line x1="624.79" x2="624.79" y1="481.15" y2="484.85" stroke="#333333" stroke-width="1.3"/>
<text transform="translate(630.79,488.4) rotate(-90)" x="0" y="0" font-size="8.2" fill="#4D4D4D" color="#4D4D4D" text-anchor="end">Citrus</text>
<text transform="translate(639.69,488.4) rotate(-90)" x="0" y="0" font-size="8.2" fill="#4D4D4D" color="#4D4D4D" text-anchor="end">Fruits</text>
<line x1="649.31" x2="649.31" y1="481.15" y2="484.85" stroke="#333333" stroke-width="1.3"/>
<text transform="translate(655.31,488.4) rotate(-90)" x="0" y="0" font-size="8.2" fill="#4D4D4D" color="#4D4D4D" text-anchor="end">Other Fruits</text>
<text transform="translate(664.21,488.4) rotate(-90)" x="0" y="0" font-size="8.2" fill="#4D4D4D" color="#4D4D4D" text-anchor="end">and Nuts</text>
<text transform="translate(5.9,251.3) rotate(-90)" x="0" y="0" font-size="8.2" fill="#000" color="#000" text-anchor="middle">In thousand metric tons</text>
<text x="355.2" y="541.1" font-size="8.2" fill="#000" color="#000" text-anchor="middle">Commodity groups</text>
<text x="90.3" y="562.5" font-size="8.2" fill="#000" color="#000">Commodities</text>
<rect x="146.4" y="552.2" width="10.9" height="14.9" fill="#FFD700" stroke="#000" stroke-width="1.1"/>
<text x="165.9" y="562.6" font-size="8.2" fill="#000" color="#000">Cereals</text>
<rect x="202.6" y="552.2" width="10.9" height="14.9" fill="#FFB400" stroke="#000" stroke-width="1.1"/>
<text x="222.1" y="562.6" font-size="8.2" fill="#000" color="#000">Sunflower</text>
<rect x="266.7" y="552.2" width="10.9" height="14.9" fill="#FCDE7D" stroke="#000" stroke-width="1.1"/>
<text x="286.2" y="562.6" font-size="8.2" fill="#000" color="#000">Rapeseed</text>
<rect x="332.1" y="552.2" width="10.9" height="14.9" fill="#FF6347" stroke="#000" stroke-width="1.1"/>
<text x="351.6" y="562.6" font-size="8.2" fill="#000" color="#000">Tomato</text>
<rect x="386.6" y="552.2" width="10.9" height="14.9" fill="#9370DB" stroke="#000" stroke-width="1.1"/>
<text x="406.1" y="558.2" font-size="8.2" fill="#000" color="#000">Other</text>
<text x="406.1" y="566.65" font-size="8.2" fill="#000" color="#000">Vegetables</text>
<rect x="454.6" y="552.2" width="10.9" height="14.9" fill="#7EC654" stroke="#000" stroke-width="1.1"/>
<text x="474.1" y="562.6" font-size="8.2" fill="#000" color="#000">Apples</text>
<rect x="507.9" y="552.2" width="10.9" height="14.9" fill="#FFA500" stroke="#000" stroke-width="1.1"/>
<text x="527.4" y="558.2" font-size="8.2" fill="#000" color="#000">Citrus</text>
<text x="527.4" y="566.65" font-size="8.2" fill="#000" color="#000">Fruits</text>
<rect x="557.1" y="552.2" width="10.9" height="14.9" fill="#66CDAA" stroke="#000" stroke-width="1.1"/>
<text x="576.6" y="558.2" font-size="8.2" fill="#000" color="#000">Other Fruits</text>
<text x="576.6" y="566.65" font-size="8.2" fill="#000" color="#000">and Nuts</text>
</g>
</svg>
</body></html>
